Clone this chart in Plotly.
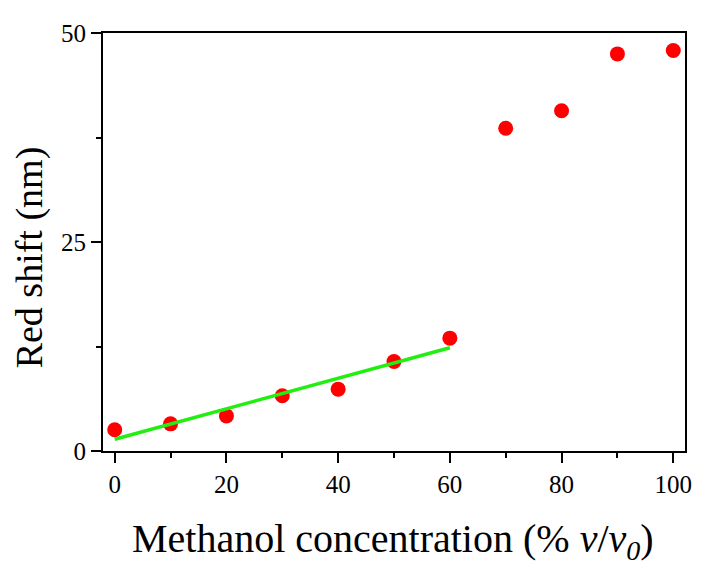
import plotly.graph_objects as go

conc = [0, 10, 20, 30, 40, 50, 60, 70, 80, 90, 100]
red_shift = [2.55, 3.25, 4.2, 6.6, 7.4, 10.7, 13.5, 38.6, 40.7, 47.5, 47.9]
fit_x = [0, 60]
fit_y = [1.4, 12.35]
x_ticks = [0, 20, 40, 60, 80, 100]
y_ticks = [0, 25, 50]
x_title = "Methanol concentration (% <i>v</i>/<i>v</i><sub><i>0</i></sub>)"
y_title = "Red shift (nm)"

FONT = "Liberation Serif"

fig = go.Figure()
fig.add_trace(go.Scatter(x=conc, y=red_shift, mode="markers",
                         marker=dict(color="#ff0000", size=15, line=dict(width=0)),
                         showlegend=False))
fig.add_trace(go.Scatter(x=fit_x, y=fit_y, mode="lines",
                         line=dict(color="#22ee11", width=3.5),
                         showlegend=False))

axis_common = dict(showline=True, linecolor="black", linewidth=2, mirror=True,
                   ticks="outside", tickcolor="black", tickwidth=2, ticklen=10,
                   showgrid=False, zeroline=False,
                   tickfont=dict(family=FONT, size=25, color="black"))

fig.update_xaxes(range=[-2.1, 102.1], tickvals=x_ticks,
                 minor=dict(dtick=10, tick0=0, ticks="outside", ticklen=5, tickwidth=2, tickcolor="black"),
                 **axis_common)
fig.update_yaxes(range=[0, 50], tickvals=y_ticks,
                 minor=dict(dtick=12.5, tick0=0, ticks="outside", ticklen=5, tickwidth=2, tickcolor="black"),
                 **axis_common)

fig.add_annotation(text=x_title, xref="paper", yref="paper", x=0.498, y=-0.215,
                   xanchor="center", yanchor="middle", showarrow=False,
                   font=dict(family=FONT, size=40, color="black"))
fig.add_annotation(text=y_title, xref="paper", yref="paper", x=-0.127, y=0.4635,
                   xanchor="center", yanchor="middle", textangle=-90, showarrow=False,
                   font=dict(family=FONT, size=38, color="black"))

# page body has an 8px margin: shift margins to compensate
fig.update_layout(width=701, height=581, margin=dict(l=95, r=24, t=18, b=138),
                  paper_bgcolor="white", plot_bgcolor="white")

fig.write_html("out.html")
